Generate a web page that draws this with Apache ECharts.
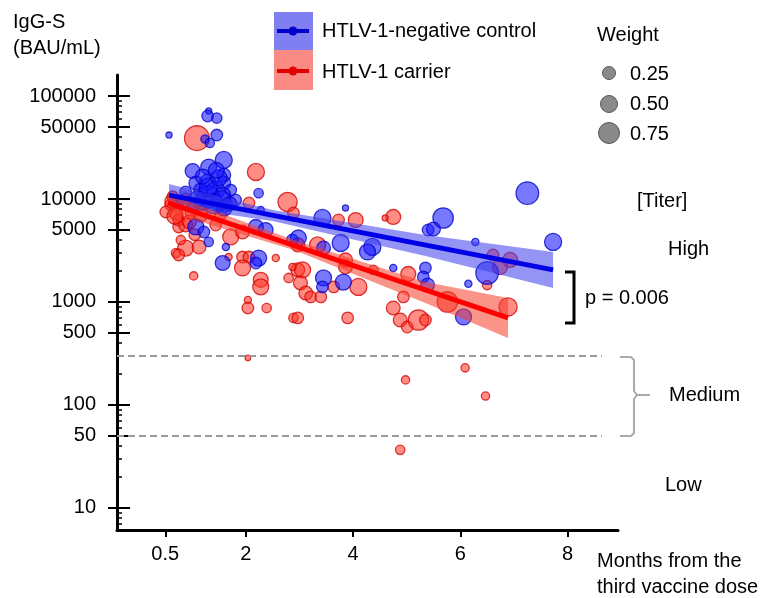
<!DOCTYPE html>
<html>
<head>
<meta charset="utf-8">
<script src="https://cdn.jsdelivr.net/npm/echarts@6/dist/echarts.min.js"></script>
<style>
  html, body { margin: 0; padding: 0; background: #fff; }
  #main { width: 772px; height: 598px; }
</style>
</head>
<body>
<div id="main"></div>
<script>
// [months, IgG-S (BAU/mL), weight]
const controlPts = [
  [0.57, 41800, 0.05], [1.31, 71500, 0.05], [1.29, 64000, 0.3], [1.46, 61000, 0.25],
  [1.46, 41800, 0.3], [1.24, 38200, 0.15], [1.33, 35000, 0.2], [1.59, 23900, 0.55],
  [1.01, 18700, 0.45], [1.31, 20400, 0.5], [1.59, 17100, 0.4], [1.07, 14300, 0.4],
  [1.29, 14600, 0.5], [1.59, 14300, 0.4], [1.44, 12200, 0.6], [1.16, 12200, 0.4],
  [1.72, 12200, 0.3], [0.88, 11700, 0.3], [2.24, 11400, 0.2], [1.31, 10500, 0.8],
  [1.57, 10900, 0.5], [1.81, 9780, 0.3], [0.79, 9780, 0.2], [1.03, 8750, 0.4],
  [1.50, 8750, 0.4], [1.63, 8750, 0.4], [1.07, 5350, 0.5], [1.22, 4780, 0.3],
  [1.31, 3830, 0.2], [1.63, 3420, 0.1], [2.28, 7820, 0.1], [2.19, 5350, 0.45],
  [2.37, 5000, 0.45], [1.57, 2390, 0.45], [2.24, 2670, 0.5], [2.19, 2390, 0.3],
  [2.87, 4000, 0.3], [3.43, 6540, 0.55], [3.86, 8180, 0.05], [2.98, 4180, 0.5],
  [3.45, 3340, 0.4], [3.77, 3740, 0.55], [4.36, 3420, 0.55], [4.27, 3060, 0.5],
  [4.75, 2140, 0.1], [5.35, 2140, 0.3], [5.31, 1750, 0.3], [5.39, 1460, 0.4],
  [3.45, 1710, 0.5], [3.43, 1400, 0.3], [3.82, 1560, 0.5], [5.40, 5000, 0.3],
  [7.25, 11400, 0.8], [5.68, 6540, 0.7], [5.50, 5110, 0.4], [7.73, 3830, 0.55],
  [6.28, 3830, 0.1], [6.50, 1910, 0.8], [6.15, 1500, 0.1], [6.06, 715, 0.5],
  [1.20, 9500, 0.6], [1.40, 9000, 0.7], [1.55, 9800, 0.6], [1.30, 13000, 0.6],
  [1.50, 16000, 0.5], [1.10, 10000, 0.5], [1.60, 8200, 0.5], [1.70, 9000, 0.4],
  [1.45, 19000, 0.5], [1.20, 16500, 0.45]
];
const carrierPts = [
  [1.09, 39000, 0.9], [2.19, 18300, 0.55], [0.64, 10500, 0.3], [0.70, 7310, 0.4],
  [0.75, 5350, 0.3], [0.75, 6250, 0.3], [0.60, 8750, 0.3], [0.88, 3340, 0.5],
  [1.13, 3420, 0.4], [0.70, 2990, 0.2], [0.75, 2860, 0.3], [1.72, 4280, 0.5],
  [1.94, 4780, 0.4], [2.06, 9150, 0.3], [2.78, 9350, 0.65], [1.68, 2730, 0.1],
  [1.94, 2730, 0.3], [2.06, 2730, 0.3], [1.94, 2140, 0.5], [2.56, 2670, 0.1],
  [1.03, 1790, 0.15], [2.28, 1640, 0.45], [2.80, 1710, 0.2], [2.04, 1045, 0.1],
  [2.04, 874, 0.3], [2.39, 874, 0.2], [2.89, 700, 0.2], [2.28, 1400, 0.5],
  [2.04, 286, 0.02], [2.89, 7310, 0.3], [3.73, 6250, 0.3], [4.05, 6250, 0.45],
  [4.75, 6690, 0.45], [4.60, 6540, 0.05], [2.97, 3580, 0.4], [3.34, 3580, 0.5],
  [3.86, 2560, 0.4], [3.86, 2190, 0.4], [4.38, 2050, 0.2], [5.03, 1870, 0.45],
  [2.97, 2050, 0.4], [3.06, 2050, 0.5], [3.02, 1530, 0.4], [3.12, 1220, 0.4],
  [3.21, 1120, 0.3], [3.40, 1120, 0.3], [3.64, 1400, 0.3], [4.10, 1400, 0.55],
  [4.94, 1120, 0.3], [4.75, 874, 0.4], [4.88, 668, 0.4], [5.01, 571, 0.3],
  [5.22, 668, 0.7], [2.97, 700, 0.3], [3.90, 700, 0.3], [6.61, 2860, 0.3],
  [6.93, 2560, 0.45], [6.74, 2190, 0.45], [6.50, 1460, 0.2], [5.76, 1000, 0.7],
  [6.89, 894, 0.6], [5.35, 668, 0.3], [4.98, 175, 0.15], [6.09, 229, 0.15],
  [6.47, 122, 0.15], [4.88, 36.6, 0.2], [0.51, 7480, 0.3], [0.88, 5590, 0.4],
  [0.98, 7310, 0.3], [1.16, 7000, 0.4], [1.44, 5590, 0.3], [2.87, 2190, 0.1],
  [0.88, 9780, 0.4], [1.53, 7000, 0.3], [0.79, 4000, 0.2],
  [0.62, 9500, 0.4], [0.68, 6800, 0.5], [0.95, 6000, 0.4], [1.05, 4500, 0.3]
];
// fitted lines and 95% bands: [months, upper, lower]
const controlFit = [[0.57, 10900], [7.73, 2050]];
const carrierFit = [[0.55, 9150], [6.89, 700]];
const controlBand = [[0.57, 13990, 8550], [2.5, 7820, 6110], [5.35, 4470, 2800], [7.73, 3060, 1370]];
const carrierBand = [[0.55, 11190, 7480], [2.9, 4000, 3200], [5.35, 1560, 978], [6.89, 1094, 447]];

const yLabelTicks = [10, 50, 100, 500, 1000, 5000, 10000, 50000, 100000];
const yMinorTicks = [7, 8, 9, 20, 30, 40, 60, 70, 80, 90, 200, 300, 400, 600, 700, 800, 900,
  2000, 3000, 4000, 6000, 7000, 8000, 9000, 20000, 30000, 40000, 60000, 70000, 80000, 90000];
const xTicks = [0.5, 2, 4, 6, 8];
const cutoffs = [300, 50];
const weightLegend = ['0.25', '0.50', '0.75'];

const FONT = 'Liberation Sans, Arial, sans-serif';
const size = d => 5 + 22 * d[2];

function bandItem(band, color) {
  return function (params, api) {
    if (params.dataIndex !== 0) return;
    const top = band.map(p => api.coord([p[0], p[1]]));
    const bot = band.map(p => api.coord([p[0], p[2]])).reverse();
    return { type: 'polygon', silent: true, shape: { points: top.concat(bot) }, style: { fill: color } };
  };
}

function yAxisBase(extra) {
  return Object.assign({
    type: 'log', logBase: 10, min: 6.1, max: 160000, position: 'left', offset: 0,
    splitLine: { show: false }, axisLine: { show: false, onZero: false }, axisLabel: { show: false }
  }, extra);
}

const txt = (x, y, s) => ({
  type: 'text', x: x, y: y, silent: true,
  style: { text: s, fontSize: 20, fontFamily: FONT, fill: '#000', textVerticalAlign: 'middle' }
});

let myChart = echarts.init(document.getElementById('main'));
myChart.setOption({
  animation: false,
  grid: { left: 117, right: 154, top: 75, bottom: 68, outerBoundsMode: 'none', containLabel: false },
  xAxis: {
    type: 'value', min: -0.4, max: 8.94,
    splitLine: { show: false },
    axisLine: { onZero: false, lineStyle: { color: '#000', width: 3 } },
    axisTick: { customValues: xTicks, length: 7, lineStyle: { color: '#000', width: 2 } },
    axisLabel: { customValues: xTicks, margin: 14, fontSize: 20, fontFamily: FONT, color: '#000' }
  },
  yAxis: [
    yAxisBase({
      axisLine: { show: true, onZero: false, lineStyle: { color: '#000', width: 3 } },
      axisTick: { customValues: yLabelTicks, length: 9, lineStyle: { color: '#000', width: 2 } },
      axisLabel: {
        show: true, customValues: yLabelTicks, margin: 21, fontSize: 20, fontFamily: FONT, color: '#000',
        formatter: v => String(Math.round(v))
      }
    }),
    yAxisBase({ axisTick: { show: true, inside: true, customValues: yLabelTicks, length: 13, lineStyle: { color: '#000', width: 2 } } }),
    yAxisBase({ axisTick: { show: true, inside: true, customValues: yMinorTicks, length: 5, lineStyle: { color: '#000', width: 1.5 } } })
  ],
  series: [
    {
      type: 'scatter', data: carrierPts, symbolSize: size,
      itemStyle: { color: 'rgba(255,45,30,0.68)', borderColor: 'rgba(210,0,0,0.95)', borderWidth: 1.3 },
      markLine: {
        silent: true, symbol: 'none', label: { show: false },
        lineStyle: { type: [7, 4], color: '#9a9a9a', width: 2 },
        data: cutoffs.map(v => [{ coord: [-0.4, v] }, { coord: [8.64, v] }])
      }
    },
    {
      type: 'scatter', data: controlPts, symbolSize: size,
      itemStyle: { color: 'rgba(20,20,255,0.72)', borderColor: 'rgba(0,0,200,0.95)', borderWidth: 1.3 }
    },
    { type: 'custom', data: controlBand, encode: { x: 0, y: [1, 2] }, renderItem: bandItem(controlBand, 'rgba(60,60,235,0.55)'), z: 3 },
    { type: 'custom', data: carrierBand, encode: { x: 0, y: [1, 2] }, renderItem: bandItem(carrierBand, 'rgba(245,60,40,0.55)'), z: 3 },
    { type: 'line', data: controlFit, symbol: 'none', lineStyle: { color: '#0000e6', width: 5 }, z: 4 },
    { type: 'line', data: carrierFit, symbol: 'none', lineStyle: { color: '#ff0000', width: 5 }, z: 4 }
  ],
  graphic: [
    txt(13, 22, 'IgG-S'),
    txt(13, 48, '(BAU/mL)'),
    // 图例
    { type: 'rect', silent: true, shape: { x: 274, y: 12, width: 39, height: 38 }, style: { fill: '#7f7ff2' } },
    { type: 'rect', silent: true, shape: { x: 274, y: 50, width: 39, height: 40 }, style: { fill: '#f98a84' } },
    { type: 'line', silent: true, shape: { x1: 277, y1: 31, x2: 309, y2: 31 }, style: { stroke: '#0000cc', lineWidth: 4 } },
    { type: 'circle', silent: true, shape: { cx: 293, cy: 31, r: 4.5 }, style: { fill: '#0000cc' } },
    { type: 'line', silent: true, shape: { x1: 277, y1: 71, x2: 309, y2: 71 }, style: { stroke: '#e00000', lineWidth: 4 } },
    { type: 'circle', silent: true, shape: { cx: 293, cy: 71, r: 4.5 }, style: { fill: '#e00000' } },
    txt(322, 31, 'HTLV-1-negative control'),
    txt(322, 72, 'HTLV-1 carrier'),
    txt(597, 35, 'Weight'),
    { type: 'circle', silent: true, shape: { cx: 609, cy: 73, r: 6.5 }, style: { fill: '#8a8a8a', stroke: '#555', lineWidth: 1 } },
    { type: 'circle', silent: true, shape: { cx: 609, cy: 104, r: 8.5 }, style: { fill: '#8a8a8a', stroke: '#555', lineWidth: 1 } },
    { type: 'circle', silent: true, shape: { cx: 609, cy: 133, r: 10.5 }, style: { fill: '#8a8a8a', stroke: '#555', lineWidth: 1 } },
    txt(630, 74, weightLegend[0]),
    txt(630, 104, weightLegend[1]),
    txt(630, 134, weightLegend[2]),
    // 右侧标注
    txt(637, 201, '[Titer]'),
    txt(668, 249, 'High'),
    { type: 'polyline', silent: true, shape: { points: [[565, 272], [574, 272], [574, 323], [565, 323]] }, style: { stroke: '#000', lineWidth: 3, fill: null } },
    txt(585, 298, 'p = 0.006'),
    { type: 'polyline', silent: true, shape: { points: [[620, 357], [631, 357], [634, 360], [634, 391], [637, 395], [650, 395]] }, style: { stroke: '#aaa', lineWidth: 2, fill: null } },
    { type: 'polyline', silent: true, shape: { points: [[637, 395], [634, 399], [634, 433], [631, 436], [620, 436]] }, style: { stroke: '#aaa', lineWidth: 2, fill: null } },
    txt(669, 395, 'Medium'),
    txt(665, 485, 'Low'),
    txt(597, 561, 'Months from the'),
    txt(597, 587, 'third vaccine dose')
  ]
});
</script>
</body>
</html>
